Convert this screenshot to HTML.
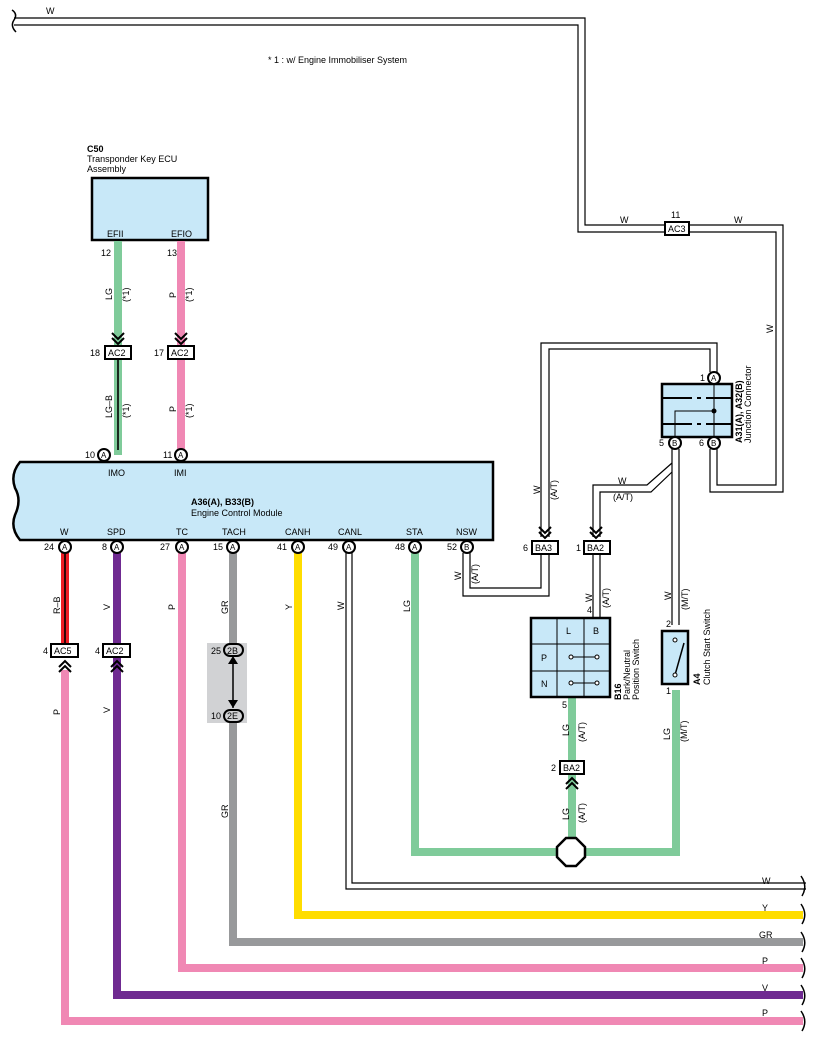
<!DOCTYPE html>
<html><head><meta charset="utf-8"><style>
html,body{margin:0;padding:0;background:#fff;}
svg{display:block;font-family:"Liberation Sans",Arial,sans-serif;}
text{font-size:9px;fill:#000;}
.b{font-weight:bold;}
</style></head><body>
<svg width="818" height="1043" viewBox="0 0 818 1043" xmlns="http://www.w3.org/2000/svg">
<defs>
<g id="chevD"><path d="M-6,-10 L0,-4 L6,-10 M-6,-5 L0,1 L6,-5" fill="none" stroke="#000" stroke-width="2"/></g>
<g id="chevU"><path d="M-6,10 L0,4 L6,10 M-6,5 L0,-1 L6,5" fill="none" stroke="#000" stroke-width="2"/></g>
</defs>

<!-- Top W wire -->
<path d="M14,18 H585 V225 H665" fill="none" stroke="#000" stroke-width="1.2"/>
<path d="M14,25 H578 V232 H665" fill="none" stroke="#000" stroke-width="1.2"/>
<path d="M12,10 Q18,14 14,20 Q10,26 16,32" fill="none" stroke="#000" stroke-width="1.5"/>
<text x="46" y="14">W</text>
<text x="268" y="63">* 1 : w/ Engine Immobiliser System</text>
<text x="620" y="223">W</text>
<text x="734" y="223">W</text>
<path d="M689,225 H783 V492 H710 V449" fill="none" stroke="#000" stroke-width="1.2"/>
<path d="M689,232 H776 V485 H717 V449" fill="none" stroke="#000" stroke-width="1.2"/>
<text transform="translate(773,333) rotate(-90)">W</text>
<rect x="665" y="222" width="24" height="13" fill="#fff" stroke="#000" stroke-width="2"/>
<text x="668" y="232">AC3</text>
<text x="671" y="218">11</text>

<!-- C50 -->
<text x="87" y="152" class="b">C50</text>
<text x="87" y="162">Transponder Key ECU</text>
<text x="87" y="172">Assembly</text>
<rect x="92" y="178" width="116" height="62" fill="#c8e8f8" stroke="#000" stroke-width="2.5"/>
<text x="107" y="237">EFII</text>
<text x="171" y="237">EFIO</text>
<line x1="118" y1="241" x2="118" y2="455" stroke="#7fcb9a" stroke-width="8"/>
<line x1="181" y1="241" x2="181" y2="455" stroke="#f088b4" stroke-width="8"/>
<line x1="118" y1="358" x2="118" y2="450" stroke="#000" stroke-width="1.6"/>
<text x="101" y="256">12</text><text x="167" y="256">13</text>
<text transform="translate(112,300) rotate(-90)">LG</text>
<text transform="translate(129,302) rotate(-90)">(*1)</text>
<text transform="translate(176,298) rotate(-90)">P</text>
<text transform="translate(192,302) rotate(-90)">(*1)</text>
<use href="#chevD" x="118" y="343"/><use href="#chevD" x="181" y="343"/>
<rect x="105" y="346" width="26" height="13" fill="#fff" stroke="#000" stroke-width="2"/><text x="108" y="356">AC2</text><text x="90" y="356">18</text>
<rect x="168" y="346" width="26" height="13" fill="#fff" stroke="#000" stroke-width="2"/><text x="171" y="356">AC2</text><text x="154" y="356">17</text>
<text transform="translate(112,418) rotate(-90)">LG–B</text>
<text transform="translate(129,418) rotate(-90)">(*1)</text>
<text transform="translate(176,412) rotate(-90)">P</text>
<text transform="translate(192,418) rotate(-90)">(*1)</text>

<!-- ECM -->
<path d="M20,462 H493 V540 H20 Q10,528 15,515 Q22,500 15,488 Q10,474 20,462 Z" fill="#c8e8f8" stroke="#000" stroke-width="2.5"/>
<text x="191" y="505" class="b">A36(A), B33(B)</text>
<text x="191" y="516">Engine Control Module</text>
<text x="108" y="476">IMO</text><text x="174" y="476">IMI</text>
<text x="60" y="535">W</text><text x="107" y="535">SPD</text><text x="176" y="535">TC</text><text x="222" y="535">TACH</text>
<text x="285" y="535">CANH</text><text x="338" y="535">CANL</text><text x="406" y="535">STA</text><text x="456" y="535">NSW</text>

<!-- bottom wires -->
<path d="M346,553 V889 H806" fill="none" stroke="#000" stroke-width="1.2"/>
<path d="M352,553 V883 H806" fill="none" stroke="#000" stroke-width="1.2"/>
<path d="M298,553 V915 H803" fill="none" stroke="#ffdd00" stroke-width="8"/>
<path d="M233,553 V942 H803" fill="none" stroke="#98999b" stroke-width="8"/>
<path d="M182,553 V968 H803" fill="none" stroke="#f088b4" stroke-width="8"/>
<path d="M117,553 V995 H803" fill="none" stroke="#6f2a91" stroke-width="8"/>
<path d="M65,670 V1021 H803" fill="none" stroke="#f088b4" stroke-width="8"/>
<line x1="65" y1="553" x2="65" y2="644" stroke="#ee1c24" stroke-width="8"/>
<line x1="65" y1="553" x2="65" y2="644" stroke="#000" stroke-width="1.6"/>
<path d="M415,553 V852 H557 M585,852 H676 V690" fill="none" stroke="#7fcb9a" stroke-width="8"/>
<path d="M572,697 V838" fill="none" stroke="#7fcb9a" stroke-width="8"/>
<g fill="none" stroke="#000" stroke-width="1.5">
<path d="M801,876 Q808,886 802,896 M801,904 Q808,914 802,924 M801,932 Q808,942 802,952 M801,958 Q808,968 802,978 M801,985 Q808,995 802,1005 M801,1011 Q808,1021 802,1031"/>
</g>
<text x="762" y="884">W</text><text x="762" y="911">Y</text><text x="759" y="938">GR</text><text x="762" y="964">P</text><text x="762" y="991">V</text><text x="762" y="1016">P</text>

<text transform="translate(60,614) rotate(-90)">R–B</text>
<text transform="translate(110,610) rotate(-90)">V</text>
<text transform="translate(175,610) rotate(-90)">P</text>
<text transform="translate(228,614) rotate(-90)">GR</text>
<text transform="translate(292,610) rotate(-90)">Y</text>
<text transform="translate(344,610) rotate(-90)">W</text>
<text transform="translate(410,612) rotate(-90)">LG</text>
<text transform="translate(60,715) rotate(-90)">P</text>
<text transform="translate(110,713) rotate(-90)">V</text>
<text transform="translate(228,818) rotate(-90)">GR</text>

<rect x="51" y="644" width="27" height="13" fill="#fff" stroke="#000" stroke-width="2"/><text x="54" y="654">AC5</text><text x="43" y="654">4</text>
<rect x="103" y="644" width="27" height="13" fill="#fff" stroke="#000" stroke-width="2"/><text x="106" y="654">AC2</text><text x="95" y="654">4</text>
<use href="#chevU" x="65" y="662"/><use href="#chevU" x="117" y="662"/>

<rect x="207" y="643" width="40" height="80" fill="#d1d2d4"/>
<line x1="233" y1="658" x2="233" y2="708" stroke="#000" stroke-width="1.5"/>
<path d="M228,664 L233,656 L238,664 Z M228,700 L233,708 L238,700 Z" fill="#000"/>
<rect x="224" y="644" width="19" height="12" rx="6" fill="#d1d2d4" stroke="#000" stroke-width="2"/><text x="227" y="654">2B</text><text x="211" y="654">25</text>
<rect x="224" y="710" width="19" height="12" rx="6" fill="#d1d2d4" stroke="#000" stroke-width="2"/><text x="227" y="719">2E</text><text x="211" y="719">10</text>

<!-- NSW to BA3 -->
<path d="M463,553 V596 H549 V554" fill="none" stroke="#000" stroke-width="1.2"/>
<path d="M470,553 V588 H541 V554" fill="none" stroke="#000" stroke-width="1.2"/>
<text transform="translate(461,580) rotate(-90)">W</text>
<text transform="translate(478,584) rotate(-90)">(A/T)</text>

<!-- 1A to BA3 -->
<path d="M541,537 V343 H717 V372" fill="none" stroke="#000" stroke-width="1.2"/>
<path d="M549,537 V349 H710 V372" fill="none" stroke="#000" stroke-width="1.2"/>
<text transform="translate(540,494) rotate(-90)">W</text>
<text transform="translate(557,500) rotate(-90)">(A/T)</text>
<use href="#chevD" x="545" y="537"/>
<rect x="532" y="541" width="26" height="13" fill="#fff" stroke="#000" stroke-width="2"/><text x="535" y="551">BA3</text><text x="523" y="551">6</text>

<!-- 5B branch -->
<path d="M672,449 V625" fill="none" stroke="#000" stroke-width="1.2"/>
<path d="M679,449 V625" fill="none" stroke="#000" stroke-width="1.2"/>
<path d="M672,463 L647,485 H593 V537" fill="none" stroke="#000" stroke-width="1.2"/>
<path d="M672,472 L651,492 H600 V537" fill="none" stroke="#000" stroke-width="1.2"/>
<text x="618" y="484">W</text><text x="613" y="500">(A/T)</text>
<use href="#chevD" x="596" y="537"/>
<rect x="584" y="541" width="26" height="13" fill="#fff" stroke="#000" stroke-width="2"/><text x="587" y="551">BA2</text><text x="576" y="551">1</text>
<path d="M593,554 V618 M600,554 V618" stroke="#000" stroke-width="1.2"/>
<text transform="translate(592,602) rotate(-90)">W</text>
<text transform="translate(609,608) rotate(-90)">(A/T)</text>
<text x="587" y="613">4</text>
<text transform="translate(671,600) rotate(-90)">W</text>
<text transform="translate(688,610) rotate(-90)">(M/T)</text>
<text x="666" y="627">2</text>

<!-- Junction connector -->
<rect x="662" y="384" width="70" height="53" fill="#c8e8f8" stroke="#000" stroke-width="2.5"/>
<path d="M662,398 H692 M697,398 H701 M706,398 H732 M662,424 H692 M697,424 H701 M706,424 H732" stroke="#000" stroke-width="2"/>
<path d="M714,384 V437 M714,411 H675 V437" fill="none" stroke="#000" stroke-width="1"/>
<circle cx="714" cy="411" r="2.5" fill="#000"/>
<text transform="translate(742,443) rotate(-90)" class="b">A31(A), A32(B)</text>
<text transform="translate(751,443) rotate(-90)">Junction Connector</text>

<!-- B16 -->
<rect x="531" y="618" width="79" height="79" fill="#c8e8f8" stroke="#000" stroke-width="2.5"/>
<path d="M531,644 H610 M531,671 H610 M557,618 V697 M584,618 V697" stroke="#000" stroke-width="1"/>
<text x="566" y="634">L</text><text x="593" y="634">B</text><text x="541" y="661">P</text><text x="541" y="687">N</text>
<path d="M571,657 H597 M571,683 H597" stroke="#000" stroke-width="1"/>
<g fill="#fff" stroke="#000"><circle cx="571" cy="657" r="2"/><circle cx="597" cy="657" r="2"/><circle cx="571" cy="683" r="2"/><circle cx="597" cy="683" r="2"/></g>
<text transform="translate(621,700) rotate(-90)" class="b">B16</text>
<text transform="translate(630,700) rotate(-90)">Park/Neutral</text>
<text transform="translate(639,700) rotate(-90)">Position Switch</text>
<text x="562" y="708">5</text>
<text transform="translate(569,736) rotate(-90)">LG</text>
<text transform="translate(585,742) rotate(-90)">(A/T)</text>
<rect x="560" y="761" width="24" height="13" fill="#fff" stroke="#000" stroke-width="2"/><text x="563" y="771">BA2</text><text x="551" y="771">2</text>
<use href="#chevU" x="572" y="779"/>
<text transform="translate(569,820) rotate(-90)">LG</text>
<text transform="translate(585,823) rotate(-90)">(A/T)</text>
<polygon points="566,838 576,838 585,847 585,857 576,866 566,866 557,857 557,847" fill="#fff" stroke="#000" stroke-width="2.5"/>

<!-- A4 -->
<rect x="662" y="631" width="26" height="53" fill="#c8e8f8" stroke="#000" stroke-width="2.5"/>
<path d="M675,675 L684,643" stroke="#000" stroke-width="1.5"/>
<g fill="#fff" stroke="#000"><circle cx="675" cy="640" r="2"/><circle cx="675" cy="675" r="2"/></g>
<text transform="translate(700,685) rotate(-90)" class="b">A4</text>
<text transform="translate(710,685) rotate(-90)">Clutch Start Switch</text>
<text x="666" y="694">1</text>
<text transform="translate(670,740) rotate(-90)">LG</text>
<text transform="translate(687,742) rotate(-90)">(M/T)</text>

<!-- pins -->
<g stroke="#000" stroke-width="2" fill="#fff">
<circle cx="104" cy="455" r="6"/><circle cx="181" cy="455" r="6"/>
<circle cx="65" cy="547" r="6"/><circle cx="117" cy="547" r="6"/><circle cx="182" cy="547" r="6"/><circle cx="233" cy="547" r="6"/>
<circle cx="298" cy="547" r="6"/><circle cx="349" cy="547" r="6"/><circle cx="415" cy="547" r="6"/><circle cx="467" cy="547" r="6"/>
<circle cx="714" cy="378" r="6"/><circle cx="675" cy="443" r="6"/><circle cx="714" cy="443" r="6"/>
</g>
<g>
<text x="101" y="458" style="font-size:8px">A</text><text x="178" y="458" style="font-size:8px">A</text>
<text x="62" y="550" style="font-size:8px">A</text><text x="114" y="550" style="font-size:8px">A</text><text x="179" y="550" style="font-size:8px">A</text><text x="230" y="550" style="font-size:8px">A</text>
<text x="295" y="550" style="font-size:8px">A</text><text x="346" y="550" style="font-size:8px">A</text><text x="412" y="550" style="font-size:8px">A</text><text x="464" y="550" style="font-size:8px">B</text>
<text x="711" y="381" style="font-size:8px">A</text><text x="672" y="446" style="font-size:8px">B</text><text x="711" y="446" style="font-size:8px">B</text>
</g>
<text x="85" y="458">10</text><text x="163" y="458">11</text>
<text x="44" y="550">24</text><text x="102" y="550">8</text><text x="160" y="550">27</text><text x="213" y="550">15</text>
<text x="277" y="550">41</text><text x="328" y="550">49</text><text x="395" y="550">48</text><text x="447" y="550">52</text>
<text x="700" y="381">1</text><text x="659" y="446">5</text><text x="699" y="446">6</text>
</svg>
</body></html>
